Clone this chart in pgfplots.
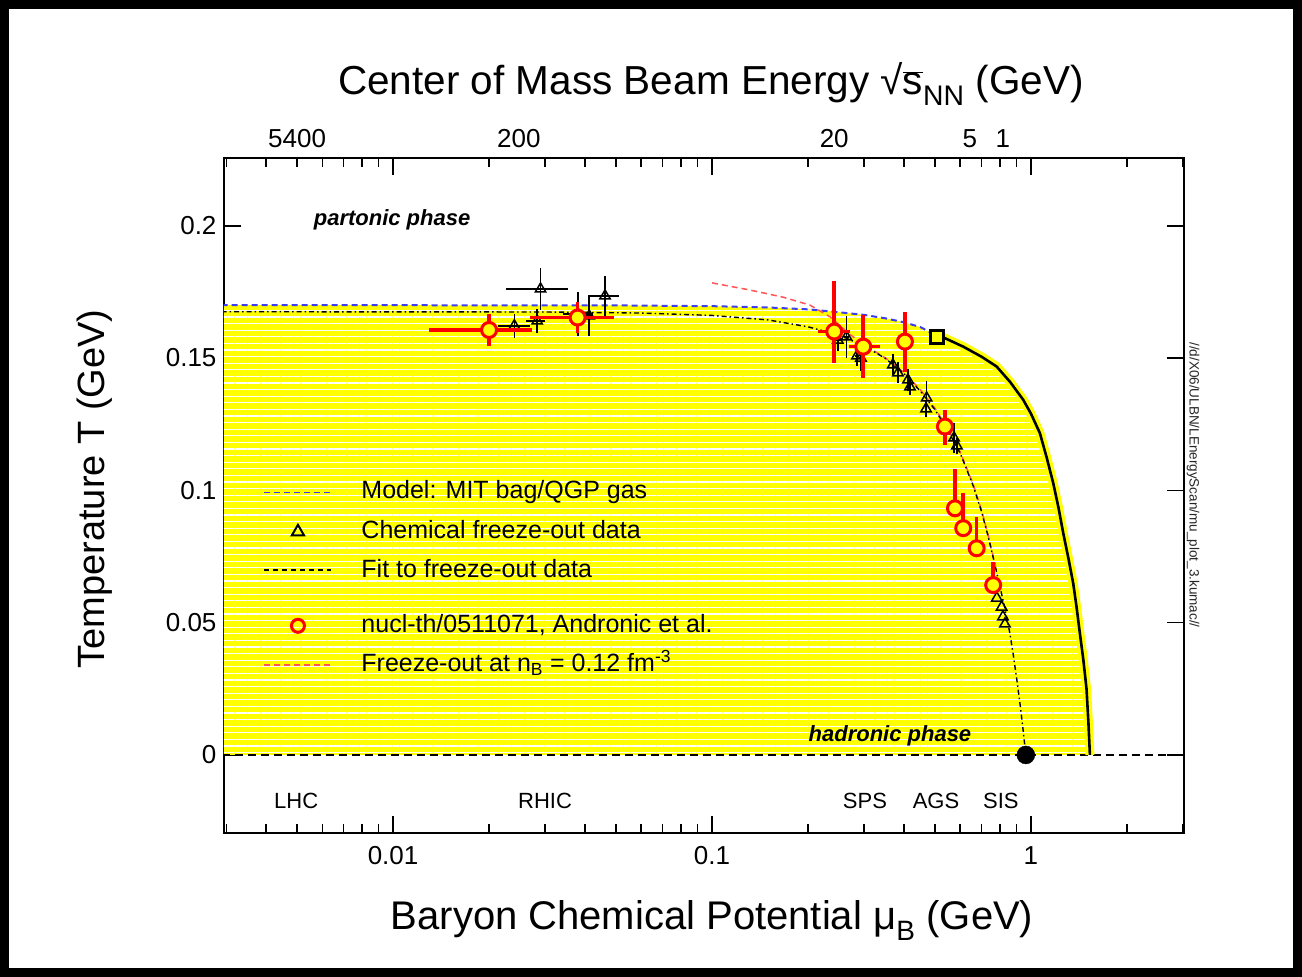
\documentclass[border=0pt]{standalone}
\usepackage{pgfplots}
\pgfplotsset{compat=1.18}
\usepackage{fontspec}
\setmainfont{Liberation Sans}
\usetikzlibrary{patterns.meta}

\definecolor{bagblue}{RGB}{60,60,240}
\definecolor{nbred}{RGB}{255,85,85}
\definecolor{datared}{RGB}{255,0,0}
\definecolor{phaseyellow}{RGB}{255,255,0}

\newcommand{\fs}[1]{\fontsize{#1}{#1}\selectfont}

\begin{document}
\begin{tikzpicture}[x=1pt,y=1pt]
\useasboundingbox (0,0) rectangle (1302,977);
\fill[white] (0,0) rectangle (1302,977);
\begin{axis}[
  at={(224pt,144pt)}, anchor=south west,
  scale only axis, width=960pt, height=675pt,
  xmode=log, xmin=0.00295, xmax=3.02,
  ymin=-0.0295, ymax=0.2256,
  clip mode=individual,
  axis line style={line width=1.8pt},
  tick align=inside, tick pos=both,
  tick style={black, line width=1.6pt},
  major tick length=17pt, minor tick length=9pt,
  xtick={0.01,0.1,1}, xticklabels={0.01,0.1,1},
  minor xtick={0.003,0.004,0.005,0.006,0.007,0.008,0.009,0.02,0.03,0.04,0.05,0.06,0.07,0.08,0.09,0.2,0.3,0.4,0.5,0.6,0.7,0.8,0.9,2,3},
  ytick={0,0.05,0.1,0.15,0.2}, yticklabels={0,0.05,0.1,0.15,0.2},
  ticklabel style={font=\fs{26}},
  xticklabel style={yshift=-10pt},
  yticklabel style={xshift=-4pt},
  legend cell align=left,
  legend style={draw=none, fill=none, at={(0.041,0.525)}, anchor=north west,
    font=\fs{25}, inner sep=0pt, row sep=12.5pt,
    nodes={inner sep=2pt, text height=18pt, text depth=5pt}},
  legend image code/.code={%
    \path[draw=none, fill=none] (0pt,0pt) -- (95pt,0pt);
    \draw[mark repeat=2,mark phase=2,#1] plot coordinates {(0pt,0pt) (33.5pt,0pt) (67pt,0pt)};},
]

% legend entries
\addlegendimage{bagblue, line width=1.5pt, dash pattern=on 6pt off 4pt}
\addlegendentry{Model: MIT bag/QGP gas}
\addlegendimage{only marks, mark=triangle, mark size=7pt, mark options={line width=2pt, black}}
\addlegendentry{Chemical freeze-out data}
\addlegendimage{black, line width=1.5pt, dash pattern=on 5pt off 4pt, yshift=9pt}
\addlegendentry[text depth=20pt]{Fit to freeze-out data}
\addlegendimage{only marks, mark=o, mark size=6.5pt, mark options={line width=3pt, datared}}
\addlegendentry{nucl-th/0511071, Andronic et al.}
\addlegendimage{nbred, line width=1.8pt, dash pattern=on 6pt off 4pt}
\addlegendentry{Freeze-out at n\textsubscript{B} = 0.12 fm\textsuperscript{-3}}

% hadronic region below the phase boundary
\addplot[draw=none, fill=phaseyellow, forget plot,
  postaction={pattern={Lines[angle=0,distance=6.6pt,line width=1.1pt]}, pattern color=white}]
  coordinates {(0.0029,0) (0.0029,0.1700) (0.05,0.1699) (0.1,0.1696) (0.15,0.1691) (0.2,0.1684)
  (0.25,0.1673) (0.3,0.1663) (0.35,0.1650) (0.4,0.1635) (0.45,0.1617) (0.5,0.1588)
  (0.531,0.1578) (0.6135,0.1543) (0.70,0.1505) (0.7806,0.1468) (0.86,0.1410) (0.9461,0.1342)
  (1.0,0.1290) (1.067,0.1216) (1.12,0.1125) (1.175,0.1027) (1.22,0.0935) (1.263,0.0838)
  (1.31,0.0745) (1.357,0.0649) (1.39,0.0560) (1.424,0.0460) (1.46,0.0360) (1.494,0.0250)
  (1.515,0.0120) (1.531,0.0)} -- cycle;

% T = 0 line
\addplot[black, line width=1.5pt, dash pattern=on 8pt off 5pt, forget plot]
  coordinates {(0.0029,0) (3.05,0)};

% first-order boundary at large mu_B
\addplot[phaseyellow, line width=9pt, forget plot]
  coordinates {(0.515,0.1582) (0.531,0.1578) (0.6135,0.1543) (0.70,0.1505) (0.7806,0.1468)
  (0.86,0.1410) (0.9461,0.1342) (1.0,0.1290) (1.067,0.1216) (1.12,0.1125) (1.175,0.1027)
  (1.22,0.0935) (1.263,0.0838) (1.31,0.0745) (1.357,0.0649) (1.39,0.0560) (1.424,0.0460)
  (1.46,0.0360) (1.494,0.0250) (1.515,0.0120) (1.531,0.0)};
\addplot[black, line width=2.6pt, forget plot]
  coordinates {(0.515,0.1582) (0.531,0.1578) (0.6135,0.1543) (0.70,0.1505) (0.7806,0.1468)
  (0.86,0.1410) (0.9461,0.1342) (1.0,0.1290) (1.067,0.1216) (1.12,0.1125) (1.175,0.1027)
  (1.22,0.0935) (1.263,0.0838) (1.31,0.0745) (1.357,0.0649) (1.39,0.0560) (1.424,0.0460)
  (1.46,0.0360) (1.494,0.0250) (1.515,0.0120) (1.531,0.0)};

% MIT bag model boundary
\addplot[bagblue, line width=2pt, dash pattern=on 6pt off 4pt, forget plot]
  coordinates {(0.0029,0.1700) (0.05,0.1699) (0.1,0.1696) (0.15,0.1691) (0.2,0.1684)
  (0.25,0.1673) (0.3,0.1663) (0.35,0.1650) (0.4,0.1635) (0.45,0.1617) (0.5,0.1588)};

% freeze-out at fixed baryon density
\addplot[nbred, line width=1.5pt, dash pattern=on 6pt off 4pt, forget plot]
  coordinates {(0.1,0.1784) (0.1315,0.1757) (0.167,0.1730) (0.2029,0.1700) (0.235,0.1655)
  (0.27,0.1590) (0.3,0.1550) (0.35,0.1500) (0.4,0.1445) (0.45,0.1380) (0.5,0.1310)
  (0.55,0.1230) (0.6,0.1145) (0.658,0.1025) (0.7,0.0925) (0.733,0.0835) (0.775,0.0710)};

% fit to the freeze-out points
\addplot[black, line width=1.4pt, dash pattern=on 5pt off 3pt on 1.5pt off 3pt, forget plot]
  coordinates {(0.0029,0.1675) (0.03,0.1674) (0.06,0.1670) (0.1,0.1661) (0.15,0.1644)
  (0.2,0.1618) (0.25,0.1587) (0.3,0.1546) (0.35,0.1498) (0.4,0.1441) (0.45,0.1375)
  (0.5,0.1305) (0.55,0.1225) (0.6,0.1140) (0.658,0.1020) (0.7,0.0920) (0.733,0.0830)
  (0.771,0.0720) (0.8,0.0635) (0.83,0.0550) (0.859,0.0460) (0.88,0.0380) (0.902,0.0290)
  (0.925,0.0190) (0.944,0.0100) (0.964,0.0)};

% chemical freeze-out data
\addplot[only marks, mark=triangle, mark size=6pt, mark options={black, line width=1.5pt},
  error bars/.cd, x dir=both, x explicit, y dir=both, y explicit, error mark=none,
  error bar style={black, line width=1.6pt}]
  coordinates {
  (0.0240,0.1622) += (0.0029,0.0045) -= (0.0027,0.0045)
  (0.0283,0.1640) += (0.0017,0.0045) -= (0.0022,0.0045)
  (0.0290,0.1761) += (0.0064,0.0080) -= (0.0064,0.0080)
  (0.0380,0.1667) += (0.0044,0.0083) -= (0.0039,0.0083)
  (0.0412,0.1659) += (0.0010,0.0075) -= (0.0010,0.0075)
  (0.0462,0.1735) += (0.0049,0.0076) -= (0.0053,0.0076)
  (0.248,0.1568) += (0.005,0.004) -= (0.005,0.004)
  (0.264,0.1580) += (0.004,0.008) -= (0.004,0.008)
  (0.2847,0.1508) += (0.004,0.004) -= (0.004,0.004)
  (0.2931,0.1500) += (0.004,0.005) -= (0.004,0.005)
  (0.369,0.1474) += (0.0,0.004) -= (0.0,0.004)
  (0.383,0.1444) += (0.0,0.004) -= (0.0,0.004)
  (0.4115,0.1417) += (0.0,0.004) -= (0.0,0.004)
  (0.4176,0.1391) += (0.0,0.003) -= (0.0,0.003)
  (0.471,0.1349) += (0.0,0.0066) -= (0.0,0.0066)
  (0.469,0.1308) += (0.0,0.003) -= (0.0,0.003)
  (0.574,0.1198) += (0.0,0.0057) -= (0.0,0.0057)
  (0.586,0.1168) += (0.0,0.003) -= (0.0,0.003)
  (0.782,0.0593) += (0.0,0.0) -= (0.0,0.0)
  (0.8095,0.0559) += (0.0,0.0) -= (0.0,0.0)
  (0.817,0.0522) += (0.0,0.0) -= (0.0,0.0)
  (0.829,0.0495) += (0.0,0.0) -= (0.0,0.0)
  };

% Andronic et al. statistical-model fits
\addplot[only marks, mark=*, mark size=7.5pt, mark options={draw=datared, fill=phaseyellow, line width=3pt},
  error bars/.cd, x dir=both, x explicit, y dir=both, y explicit, error mark=none,
  error bar style={datared, line width=3.6pt}]
  coordinates {
  (0.0200,0.1606) += (0.0073,0.0060) -= (0.0070,0.0060)
  (0.0379,0.1653) += (0.0115,0.0060) -= (0.0110,0.0060)
  (0.2417,0.1600) += (0.0300,0.0190) -= (0.0263,0.0120)
  (0.2980,0.1543) += (0.0380,0.0120) -= (0.0300,0.0120)
  (0.4027,0.1562) += (0.0100,0.0113) -= (0.0100,0.0113)
  (0.5375,0.1241) += (0.0,0.0063) -= (0.0,0.0069)
  (0.5780,0.0932) += (0.0,0.0150) -= (0.0,0.0020)
  (0.6135,0.0857) += (0.0,0.0132) -= (0.0,0.0020)
  (0.6760,0.0781) += (0.0,0.0120) -= (0.0,0.0020)
  (0.7616,0.0642) += (0.0,0.0088) -= (0.0,0.0020)
  };

% end point of the first-order line and nuclear ground state
\addplot[only marks, mark=square*, mark size=6.5pt, mark options={draw=black, fill=phaseyellow, line width=3pt}, forget plot]
  coordinates {(0.507,0.158)};
\addplot[only marks, mark=*, mark size=9pt, black, forget plot]
  coordinates {(0.964,0)};

% phase and accelerator labels
\node[font=\fs{22}\bfseries\itshape, anchor=base] at (axis cs:0.00993,0.1999) {partonic phase};
\node[font=\fs{22}\bfseries\itshape, anchor=base] at (axis cs:0.3614,0.0049) {hadronic phase};
\node[font=\fs{22}, anchor=base] at (axis cs:0.00497,-0.0204) {LHC};
\node[font=\fs{22}, anchor=base] at (axis cs:0.02996,-0.0204) {RHIC};
\node[font=\fs{22}, anchor=base] at (axis cs:0.3017,-0.0204) {SPS};
\node[font=\fs{22}, anchor=base] at (axis cs:0.5039,-0.0204) {AGS};
\node[font=\fs{22}, anchor=base] at (axis cs:0.805,-0.0204) {SIS};

% beam energy scale
\node[font=\fs{26}, anchor=base] at (axis cs:0.005,0.2294) {5400};
\node[font=\fs{26}, anchor=base] at (axis cs:0.0248,0.2294) {200};
\node[font=\fs{26}, anchor=base] at (axis cs:0.2417,0.2294) {20};
\node[font=\fs{26}, anchor=base] at (axis cs:0.644,0.2294) {5};
\node[font=\fs{26}, anchor=base] at (axis cs:0.817,0.2294) {1};
\end{axis}

% titles
\node[font=\fs{40.5}, anchor=base] at (711,882) {Center of Mass Beam Energy √$\overline{\mbox{s}}$\textsubscript{NN} (GeV)};
\node[font=\fs{40}, anchor=base] at (712,47) {Baryon Chemical Potential μ\textsubscript{B} (GeV)};
\node[font=\fs{38}, anchor=base, rotate=90] at (104,488) {Temperature T (GeV)};
\node[font=\fs{13.5}, rotate=-90, text=black!85] at (1193,492) {//d/X06/ULBN/LEnergyScan/mu\_plot\_3.kumac//};

% outer frame
\draw[line width=9pt] (4.5,4.5) rectangle (1297.5,972.5);
\end{tikzpicture}
\end{document}
